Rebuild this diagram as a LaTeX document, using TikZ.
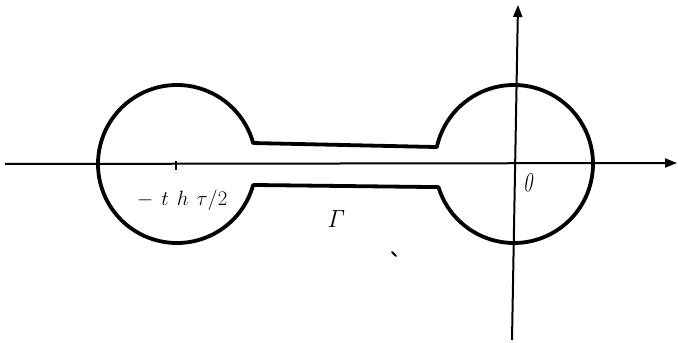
\documentclass[tikz,border=0pt]{standalone}
\usetikzlibrary{arrows.meta}
\begin{document}
\begin{tikzpicture}[x=1pt,y=1pt,
  contour/.style={line width=3.8pt, line join=round},
  axis/.style={line width=2pt, -{Triangle[length=12pt,width=9pt]}},
  lbl/.style={inner sep=0pt, anchor=base west}]
\useasboundingbox (0,0) rectangle (678,343);
\coordinate (xs) at (5,179);
\coordinate (xe) at (677,180);
\coordinate (ys) at (512,3);
\coordinate (ye) at (518,338);
\draw[axis] (xs) -- (xe);
\draw[axis] (ys) -- (ye);
\coordinate (L) at (177,179);
\coordinate (R) at (514,179);
\draw[contour] ([shift={(15.4:79)}]L) -- ([shift={(167.6:79)}]R)
  arc[start angle=167.6, end angle=-163, radius=79]
  -- ([shift={(-15.4:79)}]L)
  arc[start angle=-15.4, end angle=-344.6, radius=79] -- cycle;
\coordinate (t1) at (176,173);
\coordinate (t2) at (176,182);
\draw[line width=2.5pt] (t1) -- (t2);
\path (137,137) node[lbl, font=\fontsize{22}{26}\selectfont] (lab1) {\(-\mkern7mu t\mkern7mu h\mkern7mu \tau/2\)};
\path (523,151) node[lbl, font=\fontsize{27}{31}\selectfont] (lab2) {\scalebox{0.7}[1]{\itshape 0}};
\path (327,115) node[lbl, font=\fontsize{35}{40}\selectfont] (lab3) {\(\mathit{\Gamma}\)};
\coordinate (s1) at (392,91);
\coordinate (s2) at (396,87);
\draw[line width=2pt, line cap=round] (s1) -- (s2);
\end{tikzpicture}
\end{document}
